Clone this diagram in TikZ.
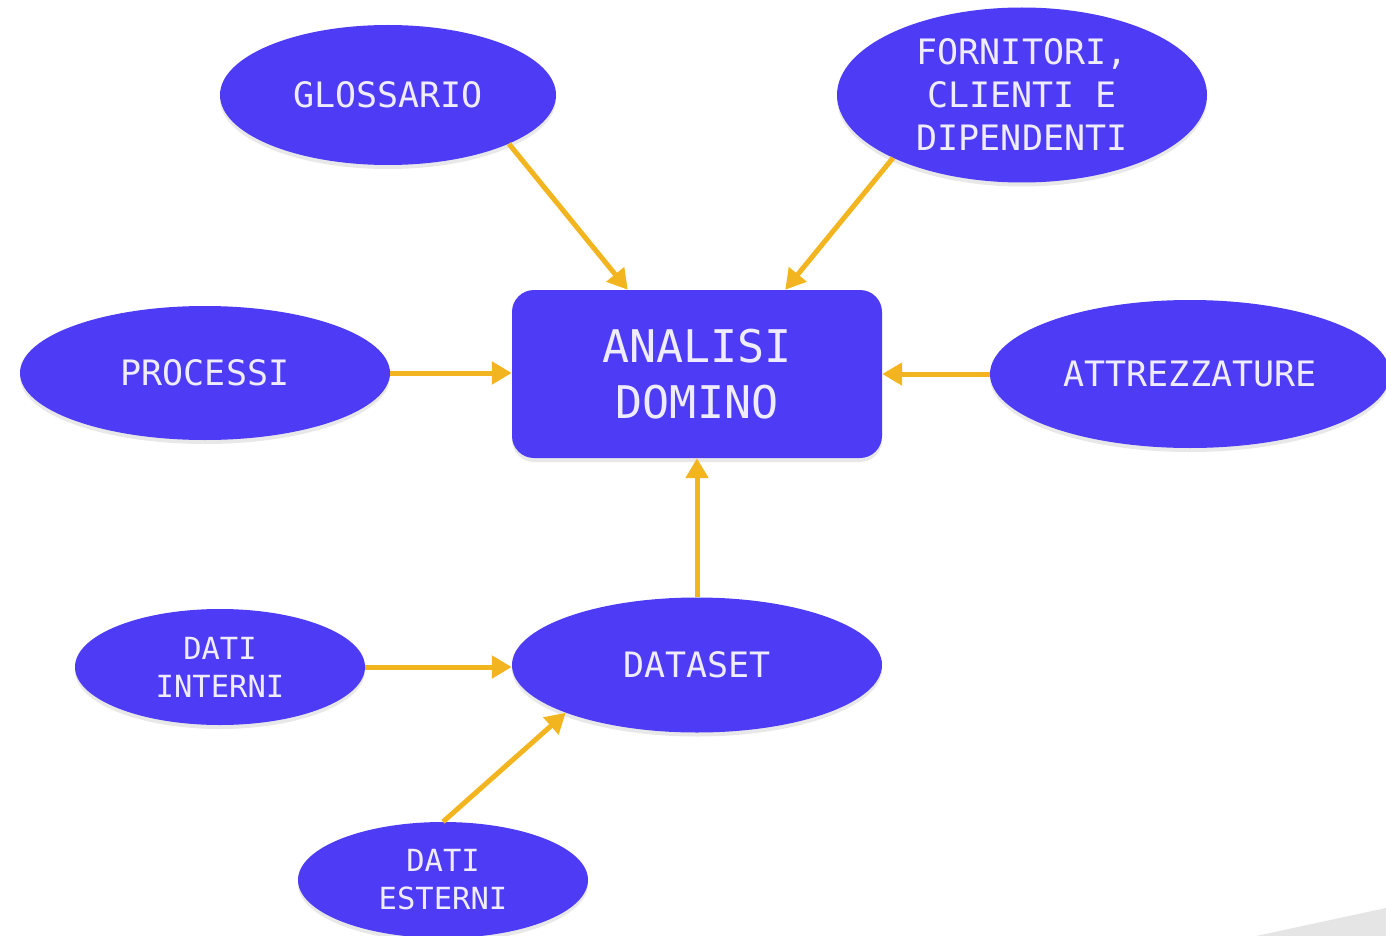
\documentclass[tikz,border=0pt]{standalone}
\usepackage{fontspec}
\setmonofont{DejaVu Sans Mono}
\usetikzlibrary{shapes.geometric,arrows.meta,shadows}

\definecolor{nodeblue}{RGB}{77,59,245}
\definecolor{nodetext}{RGB}{240,236,255}
\definecolor{arrowgold}{RGB}{242,181,32}
\definecolor{cornergrey}{RGB}{229,229,229}

\tikzset{
  bubble/.style={ellipse, fill=nodeblue, draw=none, inner sep=0pt,
    text=nodetext, align=center,
    font=\ttfamily\fontsize{35}{43}\selectfont,
    drop shadow={opacity=0.18, shadow xshift=0pt, shadow yshift=-4pt}},
  smallbubble/.style={bubble, font=\ttfamily\fontsize{30.5}{38}\selectfont},
  mainbox/.style={rectangle, rounded corners=22pt, fill=nodeblue, draw=none,
    minimum width=370pt, minimum height=168pt, inner sep=0pt,
    text=nodetext, align=center,
    font=\ttfamily\fontsize{45}{56}\selectfont,
    drop shadow={opacity=0.18, shadow xshift=0pt, shadow yshift=-4pt}},
  feed/.style={draw=arrowgold, line width=5pt,
    -{Triangle[length=20pt,width=22pt]}}
}

\begin{document}
\begin{tikzpicture}[x=1pt,y=-1pt]
  \useasboundingbox (0,0) rectangle (1386,936);

  % page corner in the bottom right
  \fill[cornergrey] (1256,936) -- (1386,908) -- (1386,936) -- cycle;

  % central box
  \node[mainbox] (box) at (697,374) {ANALISI\\DOMINO};

  % sources around it
  \node[bubble, minimum width=336pt, minimum height=140pt] (gl) at (388,95) {GLOSSARIO};
  \node[bubble, minimum width=370pt, minimum height=175pt] (fo) at (1022,95) {FORNITORI,\\CLIENTI E\\DIPENDENTI};
  \node[bubble, minimum width=370pt, minimum height=134pt] (pr) at (205,373) {PROCESSI};
  \node[bubble, minimum width=400pt, minimum height=148pt] (at) at (1190,374) {ATTREZZATURE};
  \node[bubble, minimum width=370pt, minimum height=135pt] (ds) at (697,665) {DATASET};
  \node[smallbubble, minimum width=290pt, minimum height=116pt] (di) at (220,667) {DATI\\INTERNI};
  \node[smallbubble, minimum width=290pt, minimum height=116pt] (de) at (443,880) {DATI\\ESTERNI};

  % connectors
  \draw[feed] (gl.-22) -- ([xshift=116pt]box.north west);
  \draw[feed] (fo.-154) -- ([xshift=-97pt]box.north east);
  \draw[feed] (pr.east) -- (box.west |- pr.east);
  \draw[feed] (at.west) -- (box.east |- at.west);
  \draw[feed] (ds.north) -- (box.south);
  \draw[feed] (di.east) -- (ds.west |- di.east);
  \draw[feed] (de.north) -- (ds.200);
\end{tikzpicture}
\end{document}
